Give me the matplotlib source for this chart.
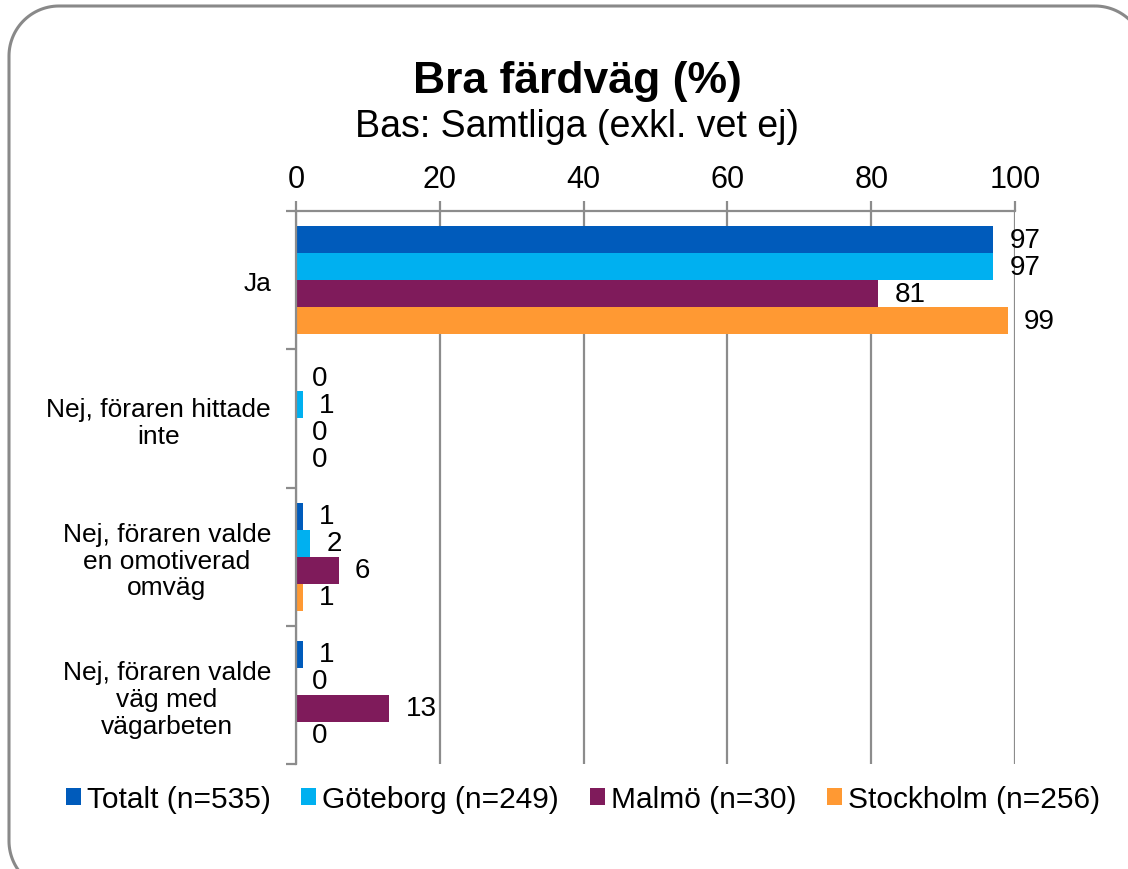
import numpy as np
import matplotlib
matplotlib.use("Agg")
import matplotlib.pyplot as plt
from matplotlib.lines import Line2D

plt.rcParams['font.family'] = ['Liberation Sans', 'DejaVu Sans']

categories = ["Ja",
              "Nej, föraren hittade\ninte",
              "Nej, föraren valde\nen omotiverad\nomväg",
              "Nej, föraren valde\nväg med\nvägarbeten"]
series = ["Totalt (n=535)", "Göteborg (n=249)", "Malmö (n=30)", "Stockholm (n=256)"]
totalt = [97, 0, 1, 1]
goteborg = [97, 1, 2, 0]
malmo = [81, 0, 6, 13]
stockholm = [99, 0, 1, 0]
colors = ["#005BBB", "#00B0F0", "#7F1B5B", "#FF9933"]
xticks = [0, 20, 40, 60, 80, 100]

W, H = 1128, 870
fig = plt.figure(figsize=(W/100, H/100), dpi=100)
ax = fig.add_axes([296/W, 1-765/H, (1015-296)/W, (765-212)/H])

# rounded frame round the chart, as a polyline in pixels (runs off right and bottom)
def rounded_frame(x0, y0, x1, y1, r):
    pts = []
    corners = [(x1 - r, y0 + r, -90, 0), (x1 - r, y1 - r, 0, 90),
               (x0 + r, y1 - r, 90, 180), (x0 + r, y0 + r, 180, 270)]
    for cx, cy, a0, a1 in corners:
        t = np.radians(np.linspace(a0, a1, 30))
        pts += list(zip(cx + r*np.cos(t), cy + r*np.sin(t)))
    pts.append(pts[0])
    px, py = np.array(pts).T
    return px / W, 1 - py / H

fx, fy = rounded_frame(9, 7, 1145, 892, 50)
fig.add_artist(Line2D(fx, fy, transform=fig.transFigure, color="#898989", lw=2.2,
                      solid_capstyle="butt", solid_joinstyle="round"))

y = np.arange(len(categories))
h = 0.1955
grey = "#8c8c8c"
for i, (vals, c) in enumerate(zip([totalt, goteborg, malmo, stockholm], colors)):
    pos = y + (i - 1.5) * h
    ax.barh(pos, vals, height=h, color=c, label=series[i], zorder=2)
    for p, v in zip(pos, vals):
        ax.annotate(str(v), (v, p), xytext=(11.5, 0), textcoords="offset points",
                    ha="left", va="center", fontsize=20)

ax.set_xlim(0, 100)
ax.set_ylim(len(categories) - 0.5, -0.5)
ax.set_xticks(xticks)
ax.xaxis.tick_top()
ax.tick_params(axis="x", labelsize=22, length=7, width=1.6, color=grey, pad=5)
ax.grid(axis="x", color=grey, lw=1.6, zorder=0)
ax.set_axisbelow(True)

ax.set_yticks(y)
ax.set_yticklabels(categories, fontsize=19, linespacing=1.15, multialignment="center")
ax.set_yticks(np.arange(len(categories) + 1) - 0.5, minor=True)
ax.tick_params(axis="y", which="major", length=0, pad=18)
ax.tick_params(axis="y", which="minor", length=7, width=1.6, color=grey)

for s in ["right", "bottom"]:
    ax.spines[s].set_visible(False)
for s in ["left", "top"]:
    ax.spines[s].set_color(grey)
    ax.spines[s].set_linewidth(1.6)

fig.text(577/W, 1-93/H, "Bra färdväg (%)", ha="center", va="baseline",
         fontsize=32, fontweight="bold")
fig.text(577/W, 1-137/H, "Bas: Samtliga (exkl. vet ej)", ha="center",
         va="baseline", fontsize=27)

fig.legend(loc="center", bbox_to_anchor=(583/W, 1-800/H), ncol=4,
           frameon=False, fontsize=21.5, handlelength=0.5, handleheight=0.5,
           handletextpad=0.2, columnspacing=1.03, borderaxespad=0)

fig.savefig("out.png", dpi=100)
